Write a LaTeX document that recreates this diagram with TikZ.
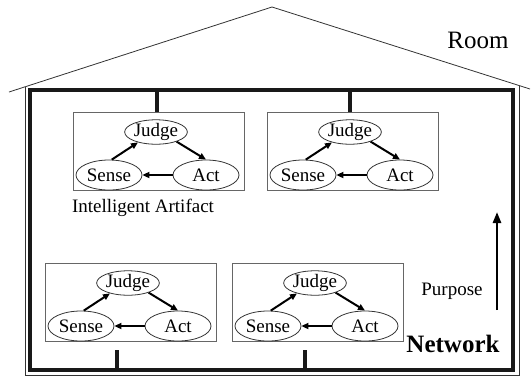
\documentclass[tikz,border=0pt]{standalone}
\usepackage{fontspec}
\setmainfont{Liberation Serif}
\usetikzlibrary{arrows.meta,shapes.geometric}
\tikzset{
  roofline/.style={line width=0.8bp, draw=black!80},
  netline/.style={line width=4bp, draw=black!90},
  abox/.style={draw=black!60, line width=0.9bp, minimum width=171bp, minimum height=78bp, inner sep=0},
  ell/.style={ellipse, draw=black!80, line width=0.8bp, inner sep=0, font=\fontsize{19bp}{21bp}\selectfont},
  jell/.style={ell, minimum width=62bp, minimum height=24bp},
  sell/.style={ell, minimum width=66bp, minimum height=30bp},
  flow/.style={line width=2bp, -{Triangle[length=7bp,width=6bp]}},
  lbl/.style={inner sep=0, anchor=base, font=\fontsize{19bp}{21bp}\selectfont},
  biglbl/.style={inner sep=0, anchor=base, font=\fontsize{25bp}{28bp}\selectfont}
}
\newcommand\artifact[3]{%
  \node[abox, anchor=north west] (#1) at (#2,#3) {};
  \node[jell] (#1J) at (#2+83,#3+20) {Judge};
  \node[sell] (#1S) at (#2+36,#3+63) {Sense};
  \node[sell] (#1A) at (#2+133,#3+63) {Act};
  \draw[flow] (#1S.80) -- (#1J.210);
  \draw[flow] (#1J.335) -- (#1A.north);
  \draw[flow] (#1A.west) -- (#1S.east);
}
\begin{document}
\begin{tikzpicture}[x=1bp,y=-1bp]
\useasboundingbox (0,0) rectangle (531,377);
% roof and outer thin wall
\coordinate (rl) at (9,92);
\coordinate (apex) at (272,7);
\coordinate (rr) at (530,89);
\draw[roofline] (rl) -- (apex) -- (rr);
\coordinate (wl) at (25,87);
\coordinate (wr) at (519,86);
\draw[roofline] (wl) -- (25,375) -- (519,375) -- (wr);
% network
\coordinate (n1) at (30,90);
\coordinate (n2) at (513,370);
\draw[netline] (n1) rectangle (n2);
% artifacts
\artifact{a}{73}{112}
\artifact{b}{267}{112}
\artifact{c}{45}{263}
\artifact{d}{232}{263}
% stubs
\draw[netline] (a.north -| 157,0) -- (157,90);
\draw[netline] (b.north -| 350,0) -- (350,90);
\coordinate (cs) at (117,350);
\coordinate (ds) at (305,350);
\draw[netline] (cs) -- (117,370);
\draw[netline] (ds) -- (305,370);
% labels
\node[lbl] (ia) at (143,212) {Intelligent Artifact};
\node[biglbl] (room) at (478,48) {Room};
\node[lbl] (purp) at (452,295) {Purpose};
\node[biglbl, font=\fontsize{25bp}{28bp}\selectfont\bfseries] (net) at (453,352) {Network};
% purpose arrow
\coordinate (pb) at (497,310);
\coordinate (pt) at (497,212);
\draw[line width=2.5bp, -{Triangle[length=11bp,width=8bp]}] (pb) -- (pt);
\end{tikzpicture}
\end{document}
